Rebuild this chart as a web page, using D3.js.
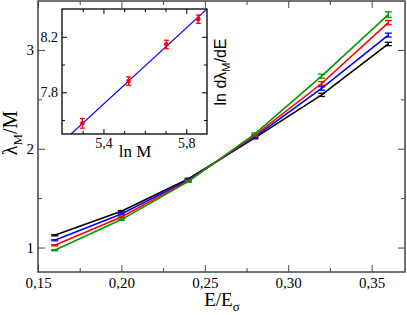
<!DOCTYPE html>
<html>
<head>
<meta charset="utf-8">
<script src="https://cdn.jsdelivr.net/npm/d3@7"></script>
<style>
  body { margin: 0; background: #fff; }
  svg text { font-family: "Liberation Serif", "Times New Roman", serif; }
  svg text.sans { font-family: "Liberation Sans", Arial, sans-serif; }
</style>
</head>
<body>
<script>
// energies E/E_sigma
var energies = [0.16, 0.20, 0.24, 0.28, 0.32, 0.36];
var seriesNames = ["M200", "M250", "M300", "M350"];
var seriesColors = ["black", "#0000ff", "#ff0000", "#009900"];
var lambdaM200 = [1.124, 1.367, 1.694, 2.110, 2.545, 3.060];
var lambdaM250 = [1.074, 1.340, 1.684, 2.120, 2.610, 3.150];
var lambdaM300 = [1.023, 1.310, 1.675, 2.135, 2.660, 3.276];
var lambdaM350 = [0.973, 1.283, 1.667, 2.150, 2.734, 3.357];
var errM200 = [0.006, 0.008, 0.008, 0.010, 0.016, 0.017];
var errM250 = [0.006, 0.008, 0.008, 0.010, 0.018, 0.020];
var errM300 = [0.006, 0.008, 0.008, 0.010, 0.018, 0.022];
var errM350 = [0.006, 0.008, 0.008, 0.010, 0.020, 0.028];

// inset: ln M vs ln dlambda/dE
var lnM = [5.2983, 5.5215, 5.7038, 5.8579];
var lnDeriv = [7.577, 7.881, 8.145, 8.327];
var lnDerivErr = [0.035, 0.03, 0.03, 0.03];
var fitSlope = 1.371;
var fitIntercept = 0.311;

var xTicks = [0.15, 0.20, 0.25, 0.30, 0.35];
var xMinor = [0.175, 0.225, 0.275, 0.325];
var yTicks = [1, 2, 3];
var yMinor = [1.5, 2.5];
var insetXTicks = [5.4, 5.8];
var insetXMinor = [5.3, 5.5, 5.6, 5.7];
var insetYTicks = [7.8, 8.2];
var insetYMinor = [7.6, 8.0];

var fmtComma = function (d) { return d3.format(".2f")(d).replace(".", ","); };
var serif = '"Liberation Serif", "Times New Roman", serif';

var svg = d3.select("body").append("svg")
  .attr("width", 407)
  .attr("height", 315);

var x = d3.scaleLinear().domain([0.15, 0.37]).range([38, 405]);
var y = d3.scaleLinear().domain([0.75, 3.5]).range([272.25, 0.5]);

var allY = [lambdaM200, lambdaM250, lambdaM300, lambdaM350];
var allErr = [errM200, errM250, errM300, errM350];

function styleAxis(g, col) {
  g.attr("font-family", null);
  g.select(".domain").remove();
  g.selectAll("line").attr("stroke", col);
  g.selectAll("text").attr("fill", "black").style("font-family", serif);
}

// main axes, ticks inward
svg.append("g").attr("transform", "translate(0,272)")
  .call(d3.axisBottom(x).tickValues(xTicks).tickSize(-7).tickPadding(5).tickFormat(fmtComma))
  .call(function (g) { styleAxis(g, "#444"); g.selectAll("text").attr("font-size", 15); });
svg.append("g").attr("transform", "translate(0,272)")
  .call(d3.axisBottom(x).tickValues(xMinor).tickSize(-4).tickFormat(""))
  .call(function (g) { styleAxis(g, "#444"); });
svg.append("g").attr("transform", "translate(0,1)")
  .call(d3.axisTop(x).tickValues(xTicks).tickSize(-7).tickFormat(""))
  .call(function (g) { styleAxis(g, "#444"); });
svg.append("g").attr("transform", "translate(0,1)")
  .call(d3.axisTop(x).tickValues(xMinor).tickSize(-4).tickFormat(""))
  .call(function (g) { styleAxis(g, "#444"); });

svg.append("g").attr("transform", "translate(38,0)")
  .call(d3.axisLeft(y).tickValues(yTicks).tickSize(-7).tickPadding(4).tickFormat(d3.format("d")))
  .call(function (g) { styleAxis(g, "#444"); g.selectAll("text").attr("font-size", 15); });
svg.append("g").attr("transform", "translate(38,0)")
  .call(d3.axisLeft(y).tickValues(yMinor).tickSize(-4).tickFormat(""))
  .call(function (g) { styleAxis(g, "#444"); });
svg.append("g").attr("transform", "translate(405,0)")
  .call(d3.axisRight(y).tickValues(yTicks).tickSize(-7).tickFormat(""))
  .call(function (g) { styleAxis(g, "#444"); });
svg.append("g").attr("transform", "translate(405,0)")
  .call(d3.axisRight(y).tickValues(yMinor).tickSize(-4).tickFormat(""))
  .call(function (g) { styleAxis(g, "#444"); });

// frame
svg.append("rect")
  .attr("x", 38).attr("y", 1)
  .attr("width", 367).attr("height", 271)
  .attr("fill", "none")
  .attr("stroke", "#444")
  .attr("stroke-width", 1.5);

// series
var line = d3.line()
  .x(function (d) { return x(d[0]); })
  .y(function (d) { return y(d[1]); });

seriesNames.forEach(function (name, i) {
  var pts = energies.map(function (e, j) { return [e, allY[i][j], allErr[i][j]]; });
  var g = svg.append("g").attr("class", name);
  g.append("path")
    .datum(pts)
    .attr("d", line)
    .attr("fill", "none")
    .attr("stroke", seriesColors[i])
    .attr("stroke-width", 1.6);
  var eb = g.selectAll(".eb").data(pts).enter().append("g").attr("class", "eb");
  eb.append("line")
    .attr("x1", function (d) { return x(d[0]); })
    .attr("x2", function (d) { return x(d[0]); })
    .attr("y1", function (d) { return y(d[1] - d[2]); })
    .attr("y2", function (d) { return y(d[1] + d[2]); })
    .attr("stroke", seriesColors[i]).attr("stroke-width", 1.3);
  [-1, 1].forEach(function (s) {
    eb.append("line")
      .attr("x1", function (d) { return x(d[0]) - 3.5; })
      .attr("x2", function (d) { return x(d[0]) + 3.5; })
      .attr("y1", function (d) { return y(d[1] + s * d[2]); })
      .attr("y2", function (d) { return y(d[1] + s * d[2]); })
      .attr("stroke", seriesColors[i]).attr("stroke-width", 1.3);
  });
});

// axis labels
var yl = svg.append("text")
  .attr("transform", "translate(17,133) rotate(-90)")
  .attr("text-anchor", "middle")
  .attr("font-size", 20);
yl.append("tspan").text("λ");
yl.append("tspan").attr("font-size", 13).attr("dy", 5).text("M");
yl.append("tspan").attr("dy", -5).text("/M");

var xl = svg.append("text")
  .attr("x", 222).attr("y", 306)
  .attr("text-anchor", "middle")
  .attr("font-size", 19);
xl.append("tspan").text("E/E");
xl.append("tspan").attr("font-size", 13).attr("dy", 5).text("σ");

// inset
var ix = d3.scaleLinear().domain([5.2, 5.9]).range([62, 207]);
var iy = d3.scaleLinear().domain([7.5, 8.4]).range([134, 9]);

svg.append("rect")
  .attr("x", 62).attr("y", 9)
  .attr("width", 145).attr("height", 125)
  .attr("fill", "white");

svg.append("clipPath").attr("id", "insetClip")
  .append("rect").attr("x", 62).attr("y", 9).attr("width", 145).attr("height", 125);

svg.append("g").attr("transform", "translate(0,134)")
  .call(d3.axisBottom(ix).tickValues(insetXTicks).tickSize(-5).tickPadding(4).tickFormat(function (d) { return d3.format(".1f")(d).replace(".", ","); }))
  .call(function (g) { styleAxis(g, "black"); g.selectAll("text").attr("font-size", 14); });
svg.append("g").attr("transform", "translate(0,134)")
  .call(d3.axisBottom(ix).tickValues(insetXMinor).tickSize(-3).tickFormat(""))
  .call(function (g) { styleAxis(g, "black"); });
svg.append("g").attr("transform", "translate(0,9)")
  .call(d3.axisTop(ix).tickValues(insetXTicks).tickSize(-5).tickFormat(""))
  .call(function (g) { styleAxis(g, "black"); });
svg.append("g").attr("transform", "translate(0,9)")
  .call(d3.axisTop(ix).tickValues(insetXMinor).tickSize(-3).tickFormat(""))
  .call(function (g) { styleAxis(g, "black"); });
svg.append("g").attr("transform", "translate(62,0)")
  .call(d3.axisLeft(iy).tickValues(insetYTicks).tickSize(-5).tickPadding(4).tickFormat(d3.format(".1f")))
  .call(function (g) { styleAxis(g, "black"); g.selectAll("text").attr("font-size", 14); });
svg.append("g").attr("transform", "translate(62,0)")
  .call(d3.axisLeft(iy).tickValues(insetYMinor).tickSize(-3).tickFormat(""))
  .call(function (g) { styleAxis(g, "black"); });
svg.append("g").attr("transform", "translate(207,0)")
  .call(d3.axisRight(iy).tickValues(insetYTicks).tickSize(-5).tickFormat(""))
  .call(function (g) { styleAxis(g, "black"); });
svg.append("g").attr("transform", "translate(207,0)")
  .call(d3.axisRight(iy).tickValues(insetYMinor).tickSize(-3).tickFormat(""))
  .call(function (g) { styleAxis(g, "black"); });

// fit line
svg.append("path")
  .datum(ix.domain())
  .attr("clip-path", "url(#insetClip)")
  .attr("d", d3.line()
    .x(function (d) { return ix(d); })
    .y(function (d) { return iy(fitIntercept + fitSlope * d); }))
  .attr("stroke", "#0000ff")
  .attr("stroke-width", 1.2)
  .attr("fill", "none");

var ipts = lnM.map(function (m, j) { return [m, lnDeriv[j], lnDerivErr[j]]; });
var ieb = svg.append("g").selectAll("g").data(ipts).enter().append("g");
ieb.append("line")
  .attr("x1", function (d) { return ix(d[0]); })
  .attr("x2", function (d) { return ix(d[0]); })
  .attr("y1", function (d) { return iy(d[1] - d[2]); })
  .attr("y2", function (d) { return iy(d[1] + d[2]); })
  .attr("stroke", "#ff0000").attr("stroke-width", 1.3);
[-1, 1].forEach(function (s) {
  ieb.append("line")
    .attr("x1", function (d) { return ix(d[0]) - 2.5; })
    .attr("x2", function (d) { return ix(d[0]) + 2.5; })
    .attr("y1", function (d) { return iy(d[1] + s * d[2]); })
    .attr("y2", function (d) { return iy(d[1] + s * d[2]); })
    .attr("stroke", "#ff0000").attr("stroke-width", 1.3);
});
ieb.append("circle")
  .attr("cx", function (d) { return ix(d[0]); })
  .attr("cy", function (d) { return iy(d[1]); })
  .attr("r", 2.3)
  .attr("fill", "#ff0000");

svg.append("rect")
  .attr("x", 62).attr("y", 9)
  .attr("width", 145).attr("height", 125)
  .attr("fill", "none")
  .attr("stroke", "black")
  .attr("stroke-width", 1.3);

svg.append("text")
  .attr("x", 135).attr("y", 157)
  .attr("text-anchor", "middle")
  .attr("font-size", 17)
  .text("ln M");

var il = svg.append("text")
  .attr("class", "sans")
  .attr("transform", "translate(226,72) rotate(-90)")
  .attr("text-anchor", "middle")
  .attr("font-size", 16);
il.append("tspan").text("ln dλ");
il.append("tspan").attr("font-size", 11).attr("dy", 4).text("M");
il.append("tspan").attr("dy", -4).text("/dE");
</script>
</body>
</html>
